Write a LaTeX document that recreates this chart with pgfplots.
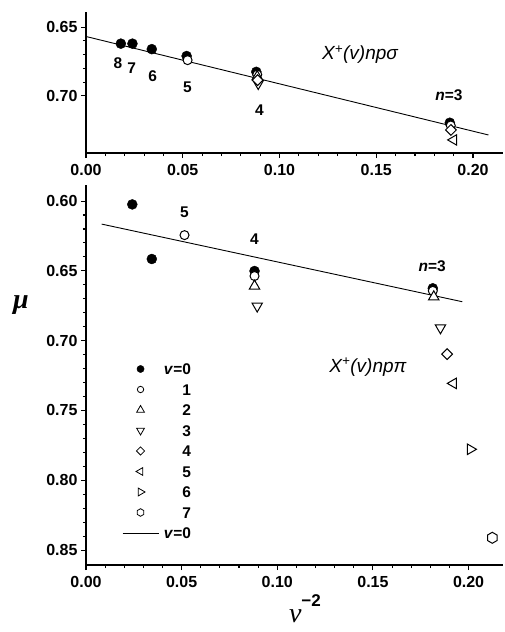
\documentclass[border=0pt]{standalone}
\usepackage{fontspec}
\setmainfont{Liberation Sans}
\newfontfamily\serifgreek{Liberation Serif}
\usepackage{pgfplots}
\pgfplotsset{compat=1.18}
\pgfdeclareplotmark{hexagon}{%
  \pgfpathmoveto{\pgfqpointpolar{90}{\pgfplotmarksize}}%
  \pgfpathlineto{\pgfqpointpolar{150}{\pgfplotmarksize}}%
  \pgfpathlineto{\pgfqpointpolar{210}{\pgfplotmarksize}}%
  \pgfpathlineto{\pgfqpointpolar{270}{\pgfplotmarksize}}%
  \pgfpathlineto{\pgfqpointpolar{330}{\pgfplotmarksize}}%
  \pgfpathlineto{\pgfqpointpolar{30}{\pgfplotmarksize}}%
  \pgfpathclose
  \pgfusepathqfillstroke}
\tikzset{lab/.style={font=\fontsize{15.5}{15.5}\selectfont\bfseries, anchor=center}}
\pgfplotsset{
  common/.style={
    scale only axis, width=417pt,
    y dir=reverse,
    axis x line*=bottom, axis y line*=left,
    axis line style={line width=1.5pt},
    tick align=outside,
    major tick length=5pt, minor tick length=3pt,
    every tick/.style={line width=1.1pt, black},
    minor x tick num=4, minor y tick num=4,
    xmin=0, xtick={0,0.05,0.1,0.15,0.2},
    ticklabel style={font=\fontsize{16}{16}\selectfont\bfseries},
    xticklabel style={yshift=-3pt},
    /pgf/number format/.cd, fixed, fixed zerofill, precision=2, assume math mode=true, /pgfplots/.cd,
    clip=false,
  },
  s0/.style={only marks, mark=*, mark size=5pt, mark options={solid, fill=black, draw=black}},
  s1/.style={only marks, mark=*, mark size=4.5pt, mark options={solid, fill=white, draw=black, line width=1pt}},
  s2/.style={only marks, mark=triangle*, mark size=6pt, mark options={solid, fill=white, draw=black, line width=1pt}},
  s3/.style={only marks, mark=triangle*, mark size=6pt, mark options={solid, fill=white, draw=black, line width=1pt, rotate=180}},
  s4/.style={only marks, mark=square*, mark size=3.8pt, mark options={solid, fill=white, draw=black, line width=1pt, rotate=45}},
  s5/.style={only marks, mark=triangle*, mark size=6pt, mark options={solid, fill=white, draw=black, line width=1pt, rotate=90}},
  s6/.style={only marks, mark=triangle*, mark size=6pt, mark options={solid, fill=white, draw=black, line width=1pt, rotate=-90}},
  s7/.style={only marks, mark=hexagon, mark size=5.5pt, mark options={solid, fill=white, draw=black, line width=1pt}},
}
\begin{document}
\begin{tikzpicture}
\useasboundingbox (-86pt,-479pt) rectangle (419pt,153pt);
% ---------------- top panel ----------------
\begin{axis}[common, name=top, height=141pt,
  ymin=0.639, ymax=0.7415, xmax=0.2155, ytick={0.65,0.70}]
\addplot[black, line width=0.9pt] coordinates {(0,0.6568) (0.208,0.7284)};
\addplot[s0] coordinates {(0.018,0.662) (0.024,0.662) (0.034,0.666) (0.052,0.671) (0.088,0.6825) (0.188,0.7195)};
\addplot[s1] coordinates {(0.0525,0.674) (0.0885,0.6845) (0.1885,0.7215)};
\addplot[s2] coordinates {(0.0885,0.686)};
\addplot[s3] coordinates {(0.089,0.691)};
\addplot[s4] coordinates {(0.0887,0.6885) (0.1886,0.7247)};
\addplot[s5] coordinates {(0.190,0.732)};
\node[lab] at (axis cs:0.0165,0.676) {8};
\node[lab] at (axis cs:0.0236,0.680) {7};
\node[lab] at (axis cs:0.0345,0.6854) {6};
\node[lab] at (axis cs:0.0524,0.6937) {5};
\node[lab] at (axis cs:0.0896,0.7102) {4};
\node[lab] at (axis cs:0.1876,0.6998) {\textit{n}=3};
\node[font=\fontsize{19}{19}\selectfont\itshape, anchor=center] at (axis cs:0.1416,0.6702) {X\textsuperscript{+}(v)npσ};
\end{axis}
% ---------------- bottom panel ----------------
\begin{axis}[common, at={(0pt,-32pt)}, anchor=north west, height=380pt,
  ymin=0.5885, ymax=0.8607, xmax=0.218, ytick={0.60,0.65,0.70,0.75,0.80,0.85},
  every axis y label/.style={at={(axis description cs:-0.156,0.684)}, anchor=center},
  ylabel={\fontsize{28}{28}\selectfont\serifgreek\bfseries\itshape μ},
  every axis x label/.style={at={(axis description cs:0.525,-0.152)}, anchor=base, inner sep=0pt},
  xlabel={\fontsize{28}{28}\selectfont\serifgreek\itshape ν\raisebox{16pt}{\fontsize{17}{17}\selectfont\rmfamily\upshape\bfseries −2}},
  legend image code/.code={\draw[mark repeat=2,mark phase=2,#1] plot coordinates {(0pt,0pt)(18pt,0pt)(36pt,0pt)};},
  legend style={draw=none, fill=none, at={(axis description cs:0.079,0.539)}, anchor=north west,
    font=\fontsize{15.5}{15.5}\selectfont\bfseries, row sep=7.3pt, column sep=4pt,
    nodes={inner sep=1pt, text height=11.2pt, text depth=0pt}},
  legend cell align=right]
\addplot[black, line width=0.9pt, forget plot] coordinates {(0.0082,0.6165) (0.1967,0.6721)};
\addplot[s0, forget plot] coordinates {(0.0242,0.6024) (0.0344,0.6415) (0.0881,0.6501) (0.1813,0.6625)};
\addplot[s1, forget plot] coordinates {(0.0515,0.6244) (0.0881,0.6537) (0.1813,0.6643)};
\addplot[s2, forget plot] coordinates {(0.0881,0.6609) (0.1818,0.6686)};
\addplot[s3, forget plot] coordinates {(0.0895,0.6752) (0.1853,0.6908)};
\addplot[s4, forget plot] coordinates {(0.1888,0.7096)};
\addplot[s5, forget plot] coordinates {(0.192,0.7306)};
\addplot[s6, forget plot] coordinates {(0.201,0.7778)};
\addplot[s7, forget plot] coordinates {(0.2124,0.8412)};
\addlegendimage{only marks, mark=*, mark size=3.6pt, mark options={solid, fill=black, draw=black}}
\addlegendentry{\textit{v}=0}
\addlegendimage{only marks, mark=*, mark size=3.2pt, mark options={solid, fill=white, draw=black, line width=0.8pt}}
\addlegendentry{1}
\addlegendimage{only marks, mark=triangle*, mark size=4.5pt, mark options={solid, fill=white, draw=black, line width=0.8pt}}
\addlegendentry{2}
\addlegendimage{only marks, mark=triangle*, mark size=4.5pt, mark options={solid, fill=white, draw=black, line width=0.8pt, rotate=180}}
\addlegendentry{3}
\addlegendimage{only marks, mark=square*, mark size=2.9pt, mark options={solid, fill=white, draw=black, line width=0.8pt, rotate=45}}
\addlegendentry{4}
\addlegendimage{only marks, mark=triangle*, mark size=4.5pt, mark options={solid, fill=white, draw=black, line width=0.8pt, rotate=90}}
\addlegendentry{5}
\addlegendimage{only marks, mark=triangle*, mark size=4.5pt, mark options={solid, fill=white, draw=black, line width=0.8pt, rotate=-90}}
\addlegendentry{6}
\addlegendimage{only marks, mark=hexagon, mark size=3.8pt, mark options={solid, fill=white, draw=black, line width=0.8pt}}
\addlegendentry{7}
\addlegendimage{black, line width=0.8pt}
\addlegendentry{\textit{v}=0}
\node[lab] at (axis cs:0.0515,0.6077) {5};
\node[lab] at (axis cs:0.088,0.6274) {4};
\node[lab] at (axis cs:0.181,0.6463) {\textit{n}=3};
\node[font=\fontsize{19}{19}\selectfont\itshape, anchor=center] at (axis cs:0.1474,0.7189) {X\textsuperscript{+}(v)npπ};
\end{axis}
\end{tikzpicture}
\end{document}
